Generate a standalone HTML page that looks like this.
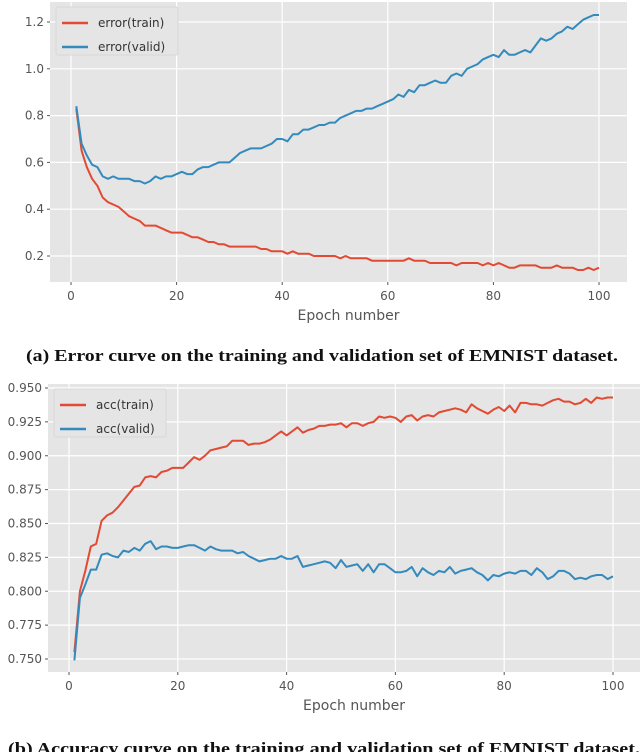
<!DOCTYPE html>
<html><head><meta charset="utf-8"><style>
html,body{margin:0;padding:0;background:#fff;width:640px;height:752px;overflow:hidden}
svg{display:block}
</style></head><body>
<svg id="s" width="640" height="752" xmlns="http://www.w3.org/2000/svg"></svg>
<script>
const epochs=[];for(let i=1;i<=100;i++)epochs.push(i);
const xTicks=[0,20,40,60,80,100];
const errTicks=[0.2,0.4,0.6,0.8,1.0,1.2];
const accTicks=[0.750,0.775,0.800,0.825,0.850,0.875,0.900,0.925,0.950];
const errTrain=[0.83,0.65,0.58,0.53,0.50,0.45,0.43,0.42,0.41,0.39,0.37,0.36,0.35,0.33,0.33,0.33,0.32,0.31,0.30,0.30,0.30,0.29,0.28,0.28,0.27,0.26,0.26,0.25,0.25,0.24,0.24,0.24,0.24,0.24,0.24,0.23,0.23,0.22,0.22,0.22,0.21,0.22,0.21,0.21,0.21,0.20,0.20,0.20,0.20,0.20,0.19,0.20,0.19,0.19,0.19,0.19,0.18,0.18,0.18,0.18,0.18,0.18,0.18,0.19,0.18,0.18,0.18,0.17,0.17,0.17,0.17,0.17,0.16,0.17,0.17,0.17,0.17,0.16,0.17,0.16,0.17,0.16,0.15,0.15,0.16,0.16,0.16,0.16,0.15,0.15,0.15,0.16,0.15,0.15,0.15,0.14,0.14,0.15,0.14,0.15];
const errValid=[0.84,0.68,0.63,0.59,0.58,0.54,0.53,0.54,0.53,0.53,0.53,0.52,0.52,0.51,0.52,0.54,0.53,0.54,0.54,0.55,0.56,0.55,0.55,0.57,0.58,0.58,0.59,0.60,0.60,0.60,0.62,0.64,0.65,0.66,0.66,0.66,0.67,0.68,0.70,0.70,0.69,0.72,0.72,0.74,0.74,0.75,0.76,0.76,0.77,0.77,0.79,0.80,0.81,0.82,0.82,0.83,0.83,0.84,0.85,0.86,0.87,0.89,0.88,0.91,0.90,0.93,0.93,0.94,0.95,0.94,0.94,0.97,0.98,0.97,1.00,1.01,1.02,1.04,1.05,1.06,1.05,1.08,1.06,1.06,1.07,1.08,1.07,1.10,1.13,1.12,1.13,1.15,1.16,1.18,1.17,1.19,1.21,1.22,1.23,1.23];
const accTrain=[0.755,0.80,0.815,0.833,0.835,0.852,0.856,0.858,0.862,0.867,0.872,0.877,0.878,0.884,0.885,0.884,0.888,0.889,0.891,0.891,0.891,0.895,0.899,0.897,0.900,0.904,0.905,0.906,0.907,0.911,0.911,0.911,0.908,0.909,0.909,0.910,0.912,0.915,0.918,0.915,0.918,0.921,0.917,0.919,0.920,0.922,0.922,0.923,0.923,0.924,0.921,0.924,0.924,0.922,0.924,0.925,0.929,0.928,0.929,0.928,0.925,0.929,0.930,0.926,0.929,0.930,0.929,0.932,0.933,0.934,0.935,0.934,0.932,0.938,0.935,0.933,0.931,0.934,0.936,0.933,0.937,0.932,0.939,0.939,0.938,0.938,0.937,0.939,0.941,0.942,0.940,0.940,0.938,0.939,0.942,0.939,0.943,0.942,0.943,0.943];
const accValid=[0.749,0.795,0.805,0.816,0.816,0.827,0.828,0.826,0.825,0.830,0.829,0.832,0.830,0.835,0.837,0.831,0.833,0.833,0.832,0.832,0.833,0.834,0.834,0.832,0.830,0.833,0.831,0.830,0.830,0.830,0.828,0.829,0.826,0.824,0.822,0.823,0.824,0.824,0.826,0.824,0.824,0.826,0.818,0.819,0.820,0.821,0.822,0.821,0.817,0.823,0.818,0.819,0.820,0.815,0.820,0.814,0.820,0.820,0.817,0.814,0.814,0.815,0.818,0.811,0.817,0.814,0.812,0.815,0.814,0.818,0.813,0.815,0.816,0.817,0.814,0.812,0.808,0.812,0.811,0.813,0.814,0.813,0.815,0.815,0.812,0.817,0.814,0.809,0.811,0.815,0.815,0.813,0.809,0.810,0.809,0.811,0.812,0.812,0.809,0.811];

const NS='http://www.w3.org/2000/svg';
const svg=document.getElementById('s');
function el(tag,attrs,parent){const e=document.createElementNS(NS,tag);for(const k in attrs)e.setAttribute(k,attrs[k]);(parent||svg).appendChild(e);return e;}

function chart(cfg){
  const g=el('g',{});
  
  
  const xs=v=>cfg.x0+(v-0)/(100-0)*(cfg.x100-cfg.x0);
  const ys=v=>cfg.ya+(v-cfg.va)/(cfg.vb-cfg.va)*(cfg.yb-cfg.ya);
  const bg=el('rect',{x:cfg.L,y:cfg.T,width:cfg.R-cfg.L,height:cfg.B-cfg.T,fill:'#e5e5e5'},g);
  
  
  xTicks.forEach(t=>{
    const x=xs(t);
    const gl=el('line',{x1:x,x2:x,y1:cfg.T,y2:cfg.B,stroke:'#fff','stroke-width':1.2},g);
    
    
    el('line',{x1:x,x2:x,y1:cfg.B,y2:cfg.B+3,stroke:'#555','stroke-width':1},g);
    const tx=el('text',{x:x,y:cfg.B+18,'text-anchor':'middle','font-family':'DejaVu Sans, sans-serif','font-size':12,fill:'#555'},g);
    tx.textContent=String(t);
    
    
  });
  cfg.yticks.forEach(t=>{
    const y=ys(t);
    const gl=el('line',{x1:cfg.L,x2:cfg.R,y1:y,y2:y,stroke:'#fff','stroke-width':1.2},g);
    
    
    el('line',{x1:cfg.L-3,x2:cfg.L,y1:y,y2:y,stroke:'#555','stroke-width':1},g);
    const tx=el('text',{x:cfg.L-6,y:y+4,'text-anchor':'end','font-family':'DejaVu Sans, sans-serif','font-size':12,fill:'#555'},g);
    tx.textContent=t.toFixed(cfg.dec);
    
    
  });
  [[cfg.s1,'#e24a33',cfg.n1],[cfg.s2,'#348abd',cfg.n2]].forEach(([d,c,n])=>{
    const p=el('path',{d:d.map((v,i)=>(i?'L':'M')+xs(epochs[i]).toFixed(1)+','+ys(v).toFixed(1)).join(''),fill:'none',stroke:c,'stroke-width':2,'stroke-linejoin':'round'},g);
    
    
  });
  const lg=el('g',{},g);
  
  
  el('rect',{x:cfg.L+6,y:cfg.T+5,width:cfg.lw,height:48,fill:'#e5e5e5',stroke:'#d8d8d8',rx:2},lg);
  [[cfg.l1,'#e24a33'],[cfg.l2,'#348abd']].forEach(([t,c],i)=>{
    const yy=cfg.T+21+i*24;
    el('line',{x1:cfg.L+12,x2:cfg.L+38,y1:yy,y2:yy,stroke:c,'stroke-width':2.5},lg);
    const tx=el('text',{x:cfg.L+48,y:yy+4,'font-family':'DejaVu Sans, sans-serif','font-size':12,fill:'#333'},lg);
    tx.textContent=t;
    
    
  });
  const xl=el('text',{x:(cfg.L+cfg.R)/2+10,y:cfg.B+38,'text-anchor':'middle','font-family':'DejaVu Sans, sans-serif','font-size':14,fill:'#555'},g);
  xl.textContent='Epoch number';
  
  
  const cap=el('text',{x:cfg.capx,y:cfg.capy,'font-family':'Liberation Serif, serif','font-size':17,'font-weight':'bold',fill:'#111',textLength:cfg.capw,lengthAdjust:'spacingAndGlyphs'},g);
  cap.textContent=cfg.cap;
  
  
}
chart({name:'error-chart',L:50,R:627,T:2,B:282,x0:71,x100:599,ya:256,va:0.2,yb:22,vb:1.2,yticks:errTicks,dec:1,
  s1:errTrain,s2:errValid,n1:'error-train',n2:'error-valid',l1:'error(train)',l2:'error(valid)',lw:122,
  capx:26,capy:361,capw:592,cap:'(a) Error curve on the training and validation set of EMNIST dataset.'});
chart({name:'accuracy-chart',L:48,R:640,T:384,B:672,x0:69,x100:613,ya:659,va:0.750,yb:388,vb:0.950,yticks:accTicks,dec:3,
  s1:accTrain,s2:accValid,n1:'acc-train',n2:'acc-valid',l1:'acc(train)',l2:'acc(valid)',lw:112,
  capx:8,capy:754,capw:632,cap:'(b) Accuracy curve on the training and validation set of EMNIST dataset.'});
</script>
</body></html>
